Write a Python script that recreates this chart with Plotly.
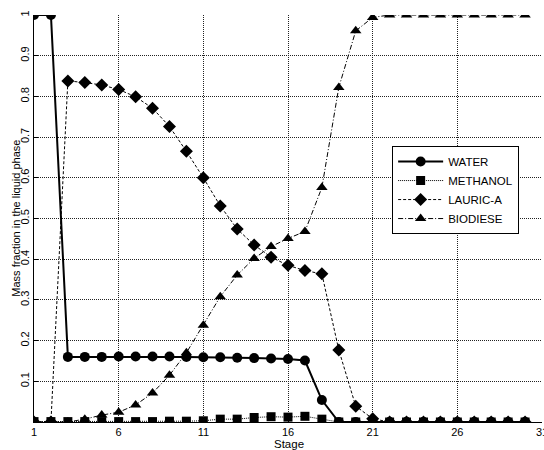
import plotly.graph_objects as go

stages = list(range(1, 31))
water = [1.0, 1.0, 0.160, 0.160, 0.160, 0.161, 0.161, 0.161, 0.161, 0.160, 0.159, 0.159, 0.158, 0.157, 0.156, 0.155, 0.151, 0.054, 0.0, 0.0,
         0.0, 0.0, 0.0, 0.0, 0.0, 0.0, 0.0, 0.0, 0.0, 0.0]
methanol = [0.001, 0.001, 0.001, 0.001, 0.001, 0.001, 0.001, 0.001, 0.002, 0.002, 0.003, 0.007, 0.007, 0.011, 0.013, 0.012, 0.014, 0.007, 0.0, 0.0,
            0.0, 0.0, 0.0, 0.0, 0.0, 0.0, 0.0, 0.0, 0.0, 0.0]
lauric = [0.0, 0.0, 0.838, 0.834, 0.828, 0.817, 0.799, 0.771, 0.726, 0.665, 0.600, 0.531, 0.474, 0.435, 0.405, 0.385, 0.372, 0.364, 0.177, 0.039,
          0.008, 0.0, 0.0, 0.0, 0.0, 0.0, 0.0, 0.0, 0.0, 0.0]
biodiese = [0.0, 0.0, 0.0, 0.007, 0.017, 0.024, 0.042, 0.071, 0.115, 0.170, 0.238, 0.308, 0.361, 0.402, 0.431, 0.451, 0.468, 0.576, 0.822, 0.961,
            0.994, 1.0, 1.0, 1.0, 1.0, 1.0, 1.0, 1.0, 1.0, 1.0]

x_ticks = [1, 6, 11, 16, 21, 26, 31]
y_ticks = [0.1, 0.2, 0.3, 0.4, 0.5, 0.6, 0.7, 0.8, 0.9, 1.0]
y_tick_text = ["0.1", "0.2", "0.3", "0.4", "0.5", "0.6", "0.7", "0.8", "0.9", "1"]

FONT = "Liberation Sans, Arial, Helvetica, sans-serif"

fig = go.Figure()
fig.add_trace(go.Scatter(x=stages, y=water, name="WATER", mode="lines+markers",
                         line=dict(color="black", width=2, dash="solid"),
                         marker=dict(symbol="circle", size=10, color="black"),
                         legendrank=1))
fig.add_trace(go.Scatter(x=stages, y=lauric, name="LAURIC-A", mode="lines+markers",
                         line=dict(color="black", width=1, dash="3px,2px"),
                         marker=dict(symbol="diamond", size=10, color="black"),
                         legendrank=3))
fig.add_trace(go.Scatter(x=stages, y=biodiese, name="BIODIESE", mode="lines+markers",
                         line=dict(color="black", width=1, dash="5px,2px,1px,2px"),
                         marker=dict(symbol="triangle-up", size=10, color="black"),
                         legendrank=4))
fig.add_trace(go.Scatter(x=stages, y=methanol, name="METHANOL", mode="lines+markers",
                         line=dict(color="black", width=1, dash="1px,1px"),
                         marker=dict(symbol="square", size=9, color="black"),
                         legendrank=2))

fig.update_layout(
    width=544, height=450,
    margin=dict(l=34, r=2, t=15, b=28, autoexpand=False),
    paper_bgcolor="white", plot_bgcolor="white",
    font=dict(family=FONT, size=11, color="black"),
    showlegend=True,
    legend=dict(x=0.705, y=0.678, xanchor="left", yanchor="top",
                bgcolor="white", bordercolor="black", borderwidth=1,
                font=dict(size=11.5), tracegroupgap=0, itemwidth=45),
    hovermode=False,
    annotations=[
        dict(text="Stage", xref="paper", yref="paper", x=0.502, y=-0.054,
             xanchor="center", yanchor="middle", showarrow=False, font=dict(size=11.5)),
        dict(text="Mass fraction in the liquid phase", xref="paper", yref="paper",
             x=-0.037, y=0.5, xanchor="center", yanchor="middle", textangle=-90,
             showarrow=False, font=dict(size=11)),
    ],
)
fig.update_xaxes(range=[1, 31], tickvals=x_ticks, ticktext=[str(v) for v in x_ticks],
                 automargin=False,
                 showgrid=True, gridcolor="#222", griddash="1px,1px", gridwidth=1,
                 showline=True, linecolor="black", linewidth=1, mirror=False,
                 ticks="inside", ticklen=4, tickcolor="black",
                 ticklabeloverflow="allow",
                 zeroline=False)
fig.update_yaxes(range=[0, 1], tickvals=y_ticks, ticktext=y_tick_text, tickangle=-90,
                 automargin=False,
                 showgrid=True, gridcolor="#222", griddash="1px,1px", gridwidth=1,
                 showline=True, linecolor="black", linewidth=1, mirror=False,
                 ticks="inside", ticklen=4, tickcolor="black",
                 ticklabeloverflow="allow",
                 zeroline=False)

post = """
document.documentElement.style.margin='0';
document.documentElement.style.overflow='hidden';
document.body.style.margin='0';
document.body.style.overflow='hidden';
"""
fig.write_html("out.html", post_script=post, config={"displayModeBar": False, "staticPlot": True})
